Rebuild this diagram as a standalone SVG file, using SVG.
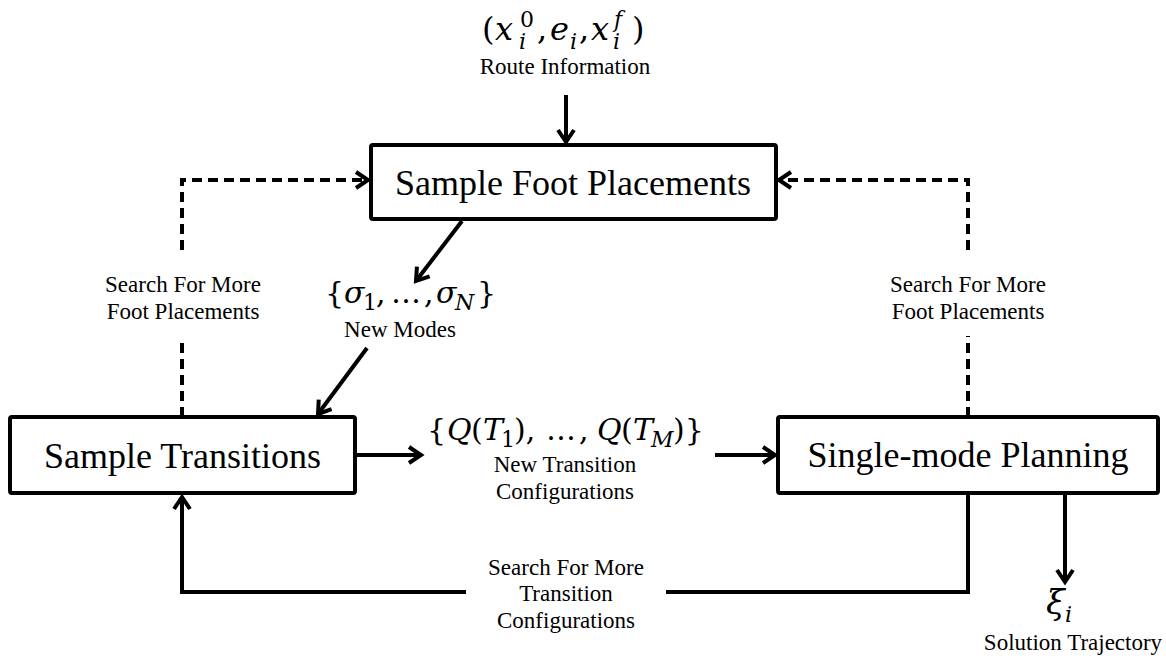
<svg xmlns="http://www.w3.org/2000/svg" width="1166" height="663" viewBox="0 0 1166 663">
<style>
.box{fill:#fff;stroke:#000;stroke-width:4}
.big{font-family:"Liberation Serif",serif;font-size:36px;text-anchor:middle;fill:#000}
.lbl{font-family:"Liberation Serif",serif;font-size:23px;text-anchor:middle;fill:#000}
.math{font-family:"DejaVu Serif",serif;font-size:32px;fill:#000}
.m30{font-size:30px}
.it{font-style:italic}
.sm{font-size:22px}
.ln{fill:none;stroke:#000;stroke-width:4}
.dash{fill:none;stroke:#000;stroke-width:4;stroke-dasharray:10 6}
</style>
<defs>
<marker id="arr" markerUnits="userSpaceOnUse" markerWidth="20" markerHeight="24" viewBox="0 0 20 24" refX="16" refY="12" orient="auto">
<path d="M4,4 L16,12 L4,20" fill="none" stroke="#000" stroke-width="4" stroke-dasharray="none"/>
</marker>
</defs>
<rect width="1166" height="663" fill="#fff"/>
<g id="connectors">
<line class="ln" x1="566" y1="95" x2="566" y2="142" marker-end="url(#arr)"/>
<line class="ln" x1="462" y1="221" x2="416" y2="281" marker-end="url(#arr)"/>
<line class="ln" x1="367" y1="348" x2="318" y2="414" marker-end="url(#arr)"/>
<line class="ln" x1="357" y1="455" x2="421" y2="455" marker-end="url(#arr)"/>
<line class="ln" x1="715" y1="455" x2="775" y2="455" marker-end="url(#arr)"/>
<line class="ln" x1="1065" y1="495" x2="1065" y2="582" marker-end="url(#arr)"/>
<polyline class="ln" points="968,495 968,592 666,592"/>
<polyline class="ln" points="466,592 182,592 182,497" marker-end="url(#arr)"/>
<line class="dash" x1="182" y1="417" x2="182" y2="338"/>
<polyline class="dash" points="182,250 182,180 368,180" marker-end="url(#arr)"/>
<line class="dash" x1="968" y1="417" x2="968" y2="336"/>
<polyline class="dash" points="968,250 968,180 779,180" marker-end="url(#arr)"/>
</g>
<g id="route">
<text class="math"><tspan x="482" y="40">(</tspan><tspan class="it" x="495" y="40">x</tspan><tspan class="sm" x="520" y="27">0</tspan><tspan class="sm it" x="519" y="49">i</tspan><tspan x="537" y="40">,</tspan><tspan class="it" x="550" y="40">e</tspan><tspan class="sm it" x="570" y="49">i</tspan><tspan x="579" y="40">,</tspan><tspan class="it" x="591" y="40">x</tspan><tspan class="sm it" x="614" y="27">f</tspan><tspan class="sm it" x="613" y="49">i</tspan><tspan x="632" y="40">)</tspan></text>
<text class="lbl" x="565" y="74">Route Information</text>
</g>
<g id="sample-foot-placements">
<rect class="box" x="371" y="145" width="405" height="74" rx="2"/>
<text class="big" x="573" y="195">Sample Foot Placements</text>
</g>
<g id="new-modes">
<text class="math m30"><tspan x="325" y="303">{</tspan><tspan class="it" x="344" y="303">σ</tspan><tspan class="sm" x="363" y="310">1</tspan><tspan x="376" y="303">,</tspan><tspan x="391" y="303">…</tspan><tspan x="424" y="303">,</tspan><tspan class="it" x="436" y="303">σ</tspan><tspan class="sm it" x="455" y="310">N</tspan><tspan x="477" y="303">}</tspan></text>
<text class="lbl" x="400" y="337">New Modes</text>
</g>
<g id="sample-transitions">
<rect class="box" x="10" y="417" width="345" height="76" rx="2"/>
<text class="big" x="182.5" y="468">Sample Transitions</text>
</g>
<g id="transition-configs">
<text class="math m30"><tspan x="427" y="440">{</tspan><tspan class="it" x="447" y="440">Q</tspan><tspan x="471" y="440">(</tspan><tspan class="it" x="483" y="440">T</tspan><tspan class="sm" x="501" y="447">1</tspan><tspan x="514" y="440">),</tspan><tspan x="546" y="440">…</tspan><tspan x="579" y="440">,</tspan><tspan class="it" x="597" y="440">Q</tspan><tspan x="621" y="440">(</tspan><tspan class="it" x="633" y="440">T</tspan><tspan class="sm it" x="651" y="447">M</tspan><tspan x="673" y="440">)}</tspan></text>
<text class="lbl" x="565" y="472">New Transition</text>
<text class="lbl" x="565" y="499">Configurations</text>
</g>
<g id="single-mode-planning">
<rect class="box" x="778" y="417" width="380" height="76" rx="2"/>
<text class="big" x="968" y="467">Single-mode Planning</text>
</g>
<g id="solution">
<text class="math"><tspan class="it" x="1046" y="614" font-size="34">ξ</tspan><tspan class="sm it" x="1065" y="622">i</tspan></text>
<text class="lbl" x="1073" y="650">Solution Trajectory</text>
</g>
<g id="labels">
<text class="lbl" x="183" y="292">Search For More</text>
<text class="lbl" x="183" y="319">Foot Placements</text>
<text class="lbl" x="968" y="292">Search For More</text>
<text class="lbl" x="968" y="319">Foot Placements</text>
<text class="lbl" x="566" y="575">Search For More</text>
<text class="lbl" x="566" y="601">Transition</text>
<text class="lbl" x="566" y="628">Configurations</text>
</g>
</svg>
